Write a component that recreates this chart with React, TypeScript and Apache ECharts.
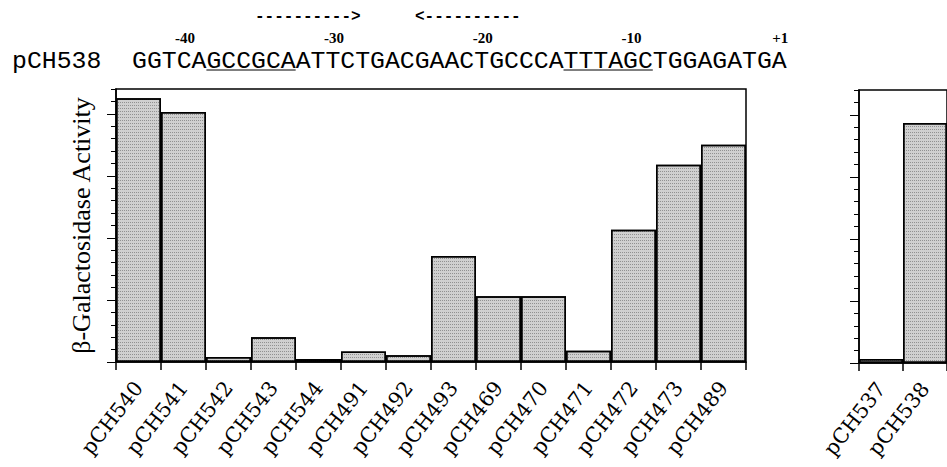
import React, { useEffect, useRef } from 'react';
import * as echarts from 'echarts';

// ---- data ----
const leftCategories = ['pCH540', 'pCH541', 'pCH542', 'pCH543', 'pCH544', 'pCH491', 'pCH492', 'pCH493', 'pCH469', 'pCH470', 'pCH471', 'pCH472', 'pCH473', 'pCH489'];
const leftValues = [4.25, 4.03, 0.08, 0.4, 0.05, 0.17, 0.11, 1.71, 1.06, 1.06, 0.18, 2.13, 3.18, 3.5];
const rightCategories = ['pCH537', 'pCH538'];
const rightValues = [0.065, 3.87];
const yMajorTicks = [0, 1, 2, 3, 4];
const yMax = 4.4;
const yMinorStep = 0.2;
const yTitle = 'β-Galactosidase Activity';
const sequenceName = 'pCH538';
const sequence = 'GGTCAGCCGCAATTCTGACGAACTGCCCATTTAGCTGGAGATGA';
const positionLabels = [-40, -30, -20, -10, 1];
const underlinedRanges = [[5, 10], [29, 34]];
const arrowTexts = ['---------->', '<----------'];

export default function App() {
  const ref = useRef<HTMLDivElement>(null);
  useEffect(() => {
    if (!ref.current) return;
    const chart = echarts.init(ref.current, undefined, { renderer: 'svg' });

    const seqFont = 24.8;
    const cw = seqFont * 0.6;
    const seqX = 132;
    const seqY = 61;
    const graphics: any[] = [];
    graphics.push({
      type: 'text', x: 12, y: seqY,
      style: { text: sequenceName, font: `${seqFont}px "Liberation Mono"`, fill: '#000', verticalAlign: 'middle' },
    });
    graphics.push({
      type: 'text', x: seqX, y: seqY,
      style: { text: sequence, font: `${seqFont}px "Liberation Mono"`, fill: '#000', verticalAlign: 'middle' },
    });
    underlinedRanges.forEach(([a, b]) => {
      graphics.push({
        type: 'line',
        shape: { x1: seqX + a * cw, y1: seqY + 9, x2: seqX + (b + 1) * cw, y2: seqY + 9 },
        style: { stroke: '#000', lineWidth: 1 },
      });
    });
    positionLabels.forEach((n) => {
      const idx = n < 0 ? sequence.length - 1 + n : sequence.length - 2 + n;
      graphics.push({
        type: 'text', x: seqX + (idx + 0.5) * cw + 1, y: 38,
        style: { text: n > 0 ? `+${n}` : `${n}`, font: 'bold 15px "Liberation Serif"', fill: '#000', align: 'center', verticalAlign: 'middle' },
      });
    });
    const arrowX = [255, 415];
    arrowTexts.forEach((t, i) => {
      graphics.push({
        type: 'text', x: arrowX[i], y: 17,
        style: { text: t, font: 'bold 16px "Liberation Mono"', fill: '#000', verticalAlign: 'middle' },
      });
    });

    const barStyle = {
      color: '#d0d0d0',
      borderColor: '#000',
      borderWidth: 1.5,
      decal: {
        symbol: 'rect',
        symbolSize: 1,
        dashArrayX: [1, 1],
        dashArrayY: [1, 2],
        color: 'rgba(0,0,0,0.3)',
      },
    };

    const xAxisBase = (gridIndex: number, data: string[]) => ({
      type: 'category',
      gridIndex,
      data,
      axisLine: { lineStyle: { color: '#000', width: 1.5 } },
      axisTick: { show: true, interval: 0, length: 8, lineStyle: { color: '#000', width: 1.5 } },
      axisLabel: {
        interval: 0,
        rotate: 52,
        margin: 22,
        color: '#000',
        fontFamily: '"DejaVu Serif"',
        fontSize: 20.5,
      },
      splitLine: { show: false },
    });
    const yMinor = (gridIndex: number) => ({
      type: 'value',
      gridIndex,
      position: 'left',
      min: 0,
      max: yMax,
      interval: yMinorStep,
      axisLine: { show: true, lineStyle: { color: '#000', width: 1.5 } },
      axisTick: { show: true, length: 5, lineStyle: { color: '#000', width: 1 } },
      axisLabel: { show: false },
      splitLine: { show: false },
    });
    const yMajor = (gridIndex: number, withName: boolean) => ({
      type: 'value',
      gridIndex,
      position: 'left',
      offset: 0,
      min: 0,
      max: yMax,
      interval: 1,
      axisLine: { show: false },
      axisTick: { show: true, length: 9, customValues: yMajorTicks, lineStyle: { color: '#000', width: 1 } },
      axisLabel: { show: false },
      splitLine: { show: false },
      name: withName ? yTitle : '',
      nameLocation: 'middle',
      nameRotate: 90,
      nameGap: 22,
      nameTextStyle: { fontFamily: '"Liberation Serif"', fontSize: 26, color: '#000' },
    });

    chart.setOption({
      animation: false,
      backgroundColor: '#fff',
      graphic: graphics,
      grid: [
        { left: 116, top: 89, width: 630, height: 273, show: true, borderColor: '#000', borderWidth: 1.5, containLabel: false },
        { left: 859, top: 90, width: 94, height: 273, show: true, borderColor: '#000', borderWidth: 1.5, containLabel: false },
      ],
      xAxis: [xAxisBase(0, leftCategories), xAxisBase(1, rightCategories)],
      yAxis: [yMinor(0), yMajor(0, true), yMinor(1), yMajor(1, false)],
      series: [
        {
          type: 'bar', xAxisIndex: 0, yAxisIndex: 0, data: leftValues,
          barCategoryGap: '0%', itemStyle: barStyle,
        },
        {
          type: 'bar', xAxisIndex: 1, yAxisIndex: 2, data: rightValues,
          barCategoryGap: '0%', itemStyle: barStyle,
        },
      ],
    });
    return () => chart.dispose();
  }, []);
  return <div ref={ref} style={{ position: 'fixed', left: 0, top: 0, width: 947, height: 467 }} />;
}
